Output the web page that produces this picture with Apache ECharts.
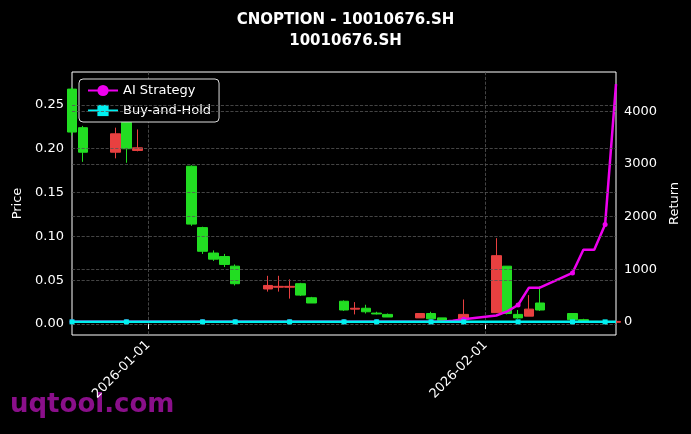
<!DOCTYPE html>
<html>
<head>
<meta charset="utf-8">
<script src="https://cdn.jsdelivr.net/npm/echarts@6/dist/echarts.min.js"></script>
<style>html,body{margin:0;background:#000}#c{width:691px;height:434px}</style>
</head>
<body>
<div id="c"></div>
<script>
const tradeDays = ['2025-12-25','2025-12-26','2025-12-29','2025-12-30','2025-12-31',
  '2026-01-05','2026-01-06','2026-01-07','2026-01-08','2026-01-09',
  '2026-01-12','2026-01-13','2026-01-14','2026-01-15','2026-01-16',
  '2026-01-19','2026-01-20','2026-01-21','2026-01-22','2026-01-23',
  '2026-01-26','2026-01-27','2026-01-28','2026-01-29','2026-01-30',
  '2026-02-02','2026-02-03','2026-02-04','2026-02-05','2026-02-06',
  '2026-02-09','2026-02-10','2026-02-11','2026-02-12','2026-02-13'];
// [open, close, low, high]
const ohlc = [
  [0.268,0.219,0.215,0.270],[0.224,0.196,0.185,0.226],[0.196,0.217,0.189,0.224],[0.230,0.200,0.184,0.232],[0.198,0.201,0.197,0.222],
  [0.180,0.114,0.112,0.181],[0.110,0.083,0.080,0.111],[0.081,0.074,0.072,0.084],[0.077,0.068,0.065,0.080],[0.066,0.046,0.044,0.068],
  [0.040,0.044,0.037,0.055],[0.042,0.043,0.037,0.055],[0.042,0.043,0.029,0.051],[0.046,0.033,0.032,0.047],[0.030,0.024,0.024,0.031],
  [0.026,0.016,0.015,0.027],[0.017,0.018,0.011,0.025],[0.018,0.014,0.012,0.022],[0.0125,0.0115,0.011,0.014],[0.011,0.008,0.008,0.012],
  [0.007,0.012,0.007,0.012],[0.012,0.006,0.006,0.014],[0.007,0.004,0.004,0.007],[0.004,0.003,0.003,0.004],[0.005,0.011,0.005,0.028],
  [0.013,0.078,0.013,0.098],[0.066,0.012,0.011,0.066],[0.011,0.007,0.006,0.016],[0.009,0.017,0.009,0.033],[0.024,0.016,0.015,0.043],
  [0.012,0.005,0.005,0.012],[0.005,0.003,0.003,0.006],[0.003,0.002,0.002,0.003],[0.002,0.003,0.002,0.003],[0.002,0.003,0.002,0.003]];
const aiReturn = [0,0,0,0,0, 0,0,0,0,0, 0,0,0,0,0, 0,0,0,0,0, 0,0,2,20,50, 120,200,320,650,650, 930,1370,1370,1850,4520];
const bhReturn = [0,0,0,0,0, 0,0,0,0,0, 0,0,0,0,0, 0,0,0,0,0, 0,0,0,0,0, 0,0,0,0,0, 0,0,0,0,0];
const priceTicks = [0,0.05,0.10,0.15,0.20,0.25];
const returnTicks = [1000,2000,3000,4000];
const dateLabels = ['2026-01-01','2026-02-01'];

// full calendar axis
const days = [];
for (let d = new Date('2025-12-25T00:00:00Z'); d <= new Date('2026-02-13T00:00:00Z'); d.setUTCDate(d.getUTCDate()+1)) {
  days.push(d.toISOString().slice(0,10));
}
const idx = {}; tradeDays.forEach((t,i)=>idx[t]=i);
const candle = days.map(d => d in idx ? ohlc[idx[d]] : '-');
const mk = (arr) => days.map(d => {
  if (!(d in idx)) return null;
  const i = idx[d];
  return i % 3 === 0 ? {value: arr[i]} : {value: arr[i], symbol: 'none'};
});
const isLabel = (i) => dateLabels.includes(days[i]);
const gridLine = {color:'#555', type:'dashed', width:0.8};
const font = {color:'#fff', fontSize:13, fontFamily:'DejaVu Sans'};

const chart = echarts.init(document.getElementById('c'));
chart.setOption({
  backgroundColor: '#000',
  animation: false,
  title: {text: 'CNOPTION - 10010676.SH\n10010676.SH', left: 'center', top: 5,
    textStyle: {color:'#fff', fontSize: 15, fontWeight: 'bold', fontFamily: 'DejaVu Sans', lineHeight: 21}},
  graphic: [{type:'text', left: 10, top: 392, style:{text:'uqtool.com', fill:'#8a0f8a', font:'bold 26px DejaVu Sans'}}],
  legend: {data:['AI Strategy','Buy-and-Hold'], orient:'vertical', left: 79, top: 79, padding:[5,8],
    backgroundColor:'#000', borderColor:'#ddd', borderWidth:1, borderRadius:4, itemGap:7, itemWidth:30,
    textStyle:{color:'#fff', fontSize:13, fontFamily:'DejaVu Sans'}},
  grid: {left: 72, right: 75, top: 72, bottom: 99, show: true, borderColor:'#fff', borderWidth:1},
  xAxis: {type:'category', data: days, boundaryGap: false,
    axisLine:{show:false}, axisTick:{interval: isLabel, lineStyle:{color:'#fff'}},
    axisLabel:Object.assign({interval: isLabel, rotate:45}, font),
    splitLine:{show:true, interval: isLabel, lineStyle: gridLine}},
  yAxis: [
    {type:'value', name:'Price', nameLocation:'middle', nameGap:46, nameTextStyle:font,
     min:-0.0125, max:0.2875, interval:0.0125, axisLine:{show:false},
     axisTick:{show:false}, splitLine:{show:false},
     axisLabel:Object.assign({formatter: v => priceTicks.some(t=>Math.abs(t-v)<1e-6) ? v.toFixed(2) : ''}, font)},
    {type:'value', name:'Return', nameLocation:'middle', nameGap:50, nameTextStyle:font,
     min:-250, max:4750, interval:250, axisLine:{show:false}, axisTick:{show:false}, splitLine:{show:false},
     axisLabel:Object.assign({formatter: v => v % 1000 === 0 ? String(v) : ''}, font)}
  ],
  series: [
    {type:'candlestick', name:'Price', data: candle, barWidth: 10, clip: true,
     itemStyle:{color:'#e84040', color0:'#22dd22', borderColor:'#e84040', borderColor0:'#22dd22', borderWidth:1},
     markLine:{silent:true, symbol:'none', label:{show:false}, lineStyle: gridLine,
       data: priceTicks.map(t=>({yAxis:t}))}},
    {type:'line', name:'AI Strategy', yAxisIndex:1, data: mk(aiReturn), connectNulls:true,
     symbol:'circle', symbolSize:5, showAllSymbol:true,
     lineStyle:{color:'#ee00ee', width:2.5}, itemStyle:{color:'#ee00ee'}, z:4},
    {type:'line', name:'Buy-and-Hold', yAxisIndex:1, data: mk(bhReturn), connectNulls:true,
     symbol:'rect', symbolSize:5, showAllSymbol:true,
     lineStyle:{color:'#00f0f0', width:2.5}, itemStyle:{color:'#00f0f0'}, z:5,
     markLine:{silent:true, symbol:'none', label:{show:false}, lineStyle: gridLine,
       data: returnTicks.map(t=>({yAxis:t}))}}
  ]
});
</script>
</body>
</html>
